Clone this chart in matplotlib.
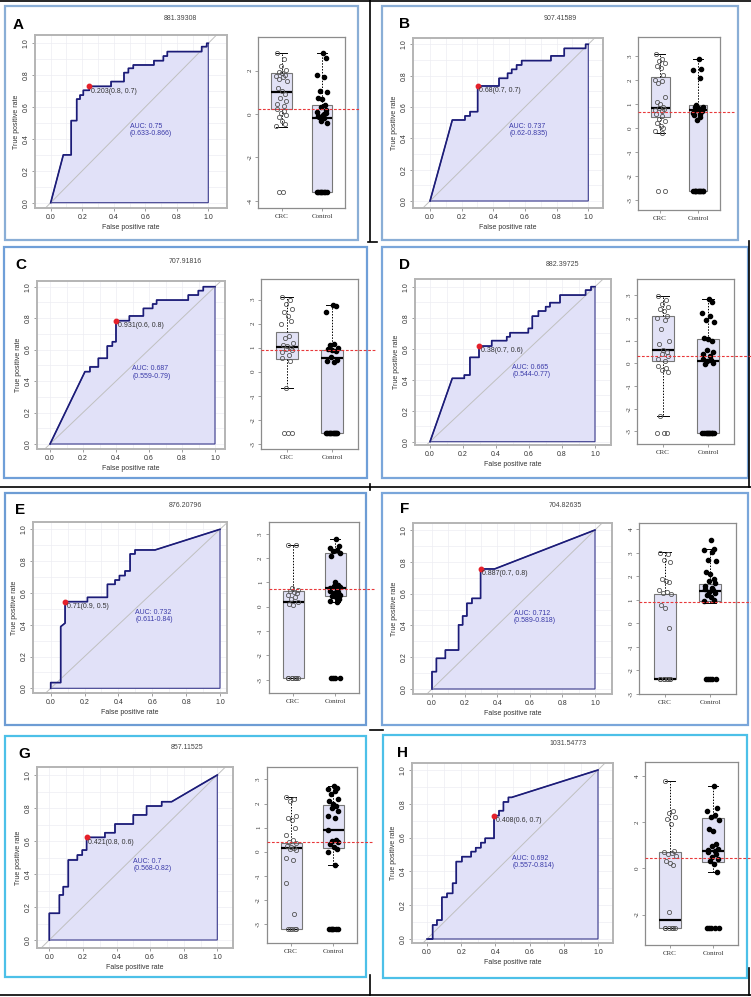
import matplotlib.pyplot as plt
from matplotlib.patches import Rectangle

W, H = 751, 997

# ---- ROC curves (fpr, tpr vertices) ----
A_fpr = [0, 0.08, 0.13, 0.13, 0.165, 0.165, 0.186, 0.186, 0.207, 0.207, 0.245, 0.245, 0.383, 0.383, 0.465, 0.465,
         0.493, 0.493, 0.524, 0.524, 0.655, 0.655, 0.715, 0.715, 0.74, 0.74, 0.958, 0.958, 0.99, 0.99, 1.0]
A_tpr = [0, 0.30, 0.30, 0.515, 0.515, 0.65, 0.65, 0.675, 0.675, 0.705, 0.705, 0.73, 0.73, 0.76, 0.76, 0.816,
         0.816, 0.843, 0.843, 0.864, 0.864, 0.891, 0.891, 0.92, 0.92, 0.948, 0.948, 0.979, 0.979, 1.0, 1.0]
B_fpr = [0, 0.141, 0.221, 0.221, 0.253, 0.253, 0.301, 0.301, 0.436, 0.436, 0.49, 0.49, 0.516, 0.516, 0.547, 0.547,
         0.579, 0.579, 0.764, 0.764, 0.848, 0.848, 0.983, 0.983, 1.0]
B_tpr = [0, 0.517, 0.517, 0.543, 0.543, 0.570, 0.570, 0.734, 0.734, 0.783, 0.783, 0.815, 0.815, 0.84, 0.84, 0.868,
         0.868, 0.896, 0.896, 0.926, 0.926, 0.974, 0.974, 1.0, 1.0]
C_fpr = [0, 0.212, 0.242, 0.242, 0.293, 0.293, 0.347, 0.347, 0.378, 0.378, 0.40, 0.40, 0.481, 0.481, 0.566, 0.566,
         0.622, 0.622, 0.646, 0.646, 0.838, 0.838, 0.899, 0.899, 0.929, 0.929, 1.0]
C_tpr = [0, 0.46, 0.46, 0.49, 0.49, 0.545, 0.545, 0.623, 0.623, 0.65, 0.65, 0.784, 0.784, 0.814, 0.814, 0.862,
         0.862, 0.89, 0.89, 0.915, 0.915, 0.947, 0.947, 0.975, 0.975, 1.0, 1.0]
D_fpr = [0, 0.135, 0.208, 0.208, 0.242, 0.242, 0.297, 0.297, 0.374, 0.374, 0.465, 0.465, 0.485, 0.485, 0.596, 0.596,
         0.62, 0.62, 0.657, 0.657, 0.701, 0.701, 0.727, 0.727, 0.788, 0.788, 0.943, 0.943, 0.976, 0.976, 1.0]
D_tpr = [0, 0.409, 0.409, 0.43, 0.43, 0.544, 0.544, 0.617, 0.617, 0.652, 0.652, 0.677, 0.677, 0.703, 0.703, 0.731,
         0.731, 0.81, 0.81, 0.843, 0.843, 0.871, 0.871, 0.897, 0.897, 0.946, 0.946, 0.978, 0.978, 1.0, 1.0]
E_fpr = [0, 0, 0.059, 0.059, 0.085, 0.085, 0.217, 0.217, 0.335, 0.335, 0.38, 0.38, 0.406, 0.406, 0.439, 0.439,
         0.469, 0.469, 0.498, 0.498, 0.616, 1.0]
E_tpr = [0, 0.036, 0.036, 0.388, 0.41, 0.545, 0.545, 0.572, 0.572, 0.654, 0.654, 0.681, 0.681, 0.709, 0.709, 0.738,
         0.738, 0.845, 0.845, 0.87, 0.87, 1.0]
F_fpr = [0, 0, 0.027, 0.027, 0.082, 0.082, 0.163, 0.163, 0.188, 0.188, 0.214, 0.214, 0.245, 0.245, 0.298, 0.298,
         0.384, 1.0]
F_tpr = [0, 0.109, 0.109, 0.193, 0.193, 0.245, 0.245, 0.403, 0.403, 0.459, 0.459, 0.539, 0.539, 0.57, 0.57, 0.755,
         0.755, 1.0]
G_fpr = [0, 0, 0.06, 0.06, 0.083, 0.083, 0.113, 0.113, 0.167, 0.167, 0.196, 0.196, 0.222, 0.222, 0.331, 0.331,
         0.391, 0.391, 0.5, 0.5, 0.579, 0.579, 0.669, 0.669, 0.728, 1.0]
G_tpr = [0, 0.162, 0.162, 0.273, 0.273, 0.323, 0.323, 0.485, 0.485, 0.515, 0.515, 0.545, 0.545, 0.622, 0.622, 0.65,
         0.65, 0.703, 0.703, 0.758, 0.758, 0.812, 0.812, 0.838, 0.838, 1.0]
H_fpr = [0, 0.033, 0.033, 0.058, 0.058, 0.087, 0.087, 0.117, 0.117, 0.15, 0.15, 0.171, 0.171, 0.204, 0.204, 0.258,
         0.258, 0.285, 0.285, 0.315, 0.315, 0.34, 0.34, 0.392, 0.392, 0.421, 0.421, 0.447, 0.447, 0.476, 0.476,
         0.495, 1.0]
H_tpr = [0, 0, 0.083, 0.083, 0.112, 0.112, 0.247, 0.247, 0.27, 0.27, 0.33, 0.33, 0.458, 0.458, 0.487, 0.487,
         0.517, 0.517, 0.54, 0.54, 0.57, 0.57, 0.596, 0.596, 0.73, 0.73, 0.759, 0.759, 0.811, 0.811, 0.838,
         0.838, 1.0]

# best threshold points and labels
best_pts = {'A': (0.245, 0.73), 'B': (0.301, 0.734), 'C': (0.40, 0.784), 'D': (0.297, 0.617),
            'E': (0.085, 0.545), 'F': (0.298, 0.755), 'G': (0.222, 0.622), 'H': (0.392, 0.73)}
thr_labels = {'A': '0.203(0.8, 0.7)', 'B': '0.68(0.7, 0.7)', 'C': '0.931(0.6, 0.8)', 'D': '0.38(0.7, 0.6)',
              'E': '0.71(0.9, 0.5)', 'F': '0.887(0.7, 0.8)', 'G': '0.421(0.8, 0.6)', 'H': '0.408(0.6, 0.7)'}
auc_labels = {'A': ('0.75', '0.633-0.866'), 'B': ('0.737', '0.62-0.835'), 'C': ('0.687', '0.559-0.79'),
              'D': ('0.665', '0.544-0.77'), 'E': ('0.732', '0.611-0.84'), 'F': ('0.712', '0.589-0.818'),
              'G': ('0.7', '0.568-0.82'), 'H': ('0.692', '0.557-0.814')}
titles = {'A': '881.39308', 'B': '907.41589', 'C': '707.91816', 'D': '882.39725',
          'E': '876.20796', 'F': '704.82635', 'G': '857.11525', 'H': '1031.54773'}

# ---- box plots: [whislo, q1, med, q3, whishi] and the points ----
A_crc_box = [-0.58, 0.25, 1.03, 1.88, 2.8]
A_ctrl_box = [-3.58, -3.58, -0.17, 0.4, 2.8]
B_crc_box = [-0.2, 0.49, 0.83, 2.15, 3.1]
B_ctrl_box = [-2.6, -2.6, 0.76, 0.97, 2.88]
C_crc_box = [-0.69, 0.53, 1.01, 1.64, 3.12]
C_ctrl_box = [-2.54, -2.54, 0.56, 0.9, 2.78]
D_crc_box = [-2.34, 0.12, 0.6, 2.09, 2.96]
D_ctrl_box = [-3.06, -3.06, 0.12, 1.07, 2.84]
E_crc_box = [-2.92, -2.92, 0.21, 0.65, 2.53]
E_ctrl_box = [0.21, 0.42, 0.76, 2.22, 2.8]
F_crc_box = [-2.36, -2.36, -2.36, 1.24, 3.03]
F_ctrl_box = [0.86, 0.93, 1.36, 1.69, 3.15]
G_crc_box = [-3.19, -3.19, 0.14, 0.37, 2.26]
G_ctrl_box = [-0.55, 0.14, 0.89, 1.92, 2.74]
H_crc_box = [-2.57, -2.57, -2.25, 0.72, 3.77]
H_ctrl_box = [-0.14, 0.29, 0.77, 2.17, 3.58]

A_crc = [2.8, 2.55, 2.2, 2.05, 1.95, 1.9, 1.8, 1.75, 1.7, 1.6, 1.5, 1.2, 1.05, 0.9, 0.75, 0.6, 0.45, 0.35, 0.25,
         0.15, 0.05, -0.05, -0.15, -0.3, -0.45, -0.55, -3.58, -3.58]
A_ctrl = [2.8, 2.6, 1.8, 1.7, 1.05, 1.0, 0.75, 0.7, 0.4, 0.3, 0.2, 0.1, 0.0, -0.1, -0.2, -0.3, -0.4, -0.15,
          -0.05, 0.05, -3.58, -3.58, -3.58, -3.58, -3.58, -3.58, -3.58, -3.58]
B_crc = [3.1, 2.9, 2.8, 2.7, 2.6, 2.5, 2.2, 2.0, 1.95, 1.9, 1.3, 1.1, 1.0, 0.9, 0.85, 0.8, 0.75, 0.7, 0.6, 0.5,
         0.4, 0.3, 0.2, 0.1, 0.0, -0.1, -0.2, -2.6, -2.6]
B_ctrl = [2.88, 2.45, 2.42, 2.1, 0.95, 0.9, 0.88, 0.85, 0.8, 0.75, 0.7, 0.65, 0.6, 0.55, 0.45, 0.35,
          -2.6, -2.6, -2.6, -2.6, -2.6, -2.6, -2.6, -2.6, -2.6, -2.6]
C_crc = [3.1, 3.0, 2.8, 2.6, 2.5, 2.3, 2.1, 2.0, 1.5, 1.4, 1.2, 1.1, 1.05, 1.0, 0.95, 0.9, 0.8, 0.7, 0.55, 0.45,
         -0.69, -2.54, -2.54, -2.54]
C_ctrl = [2.78, 2.75, 2.5, 1.15, 1.1, 1.0, 0.95, 0.9, 0.85, 0.6, 0.5, 0.45, 0.4,
          -2.54, -2.54, -2.54, -2.54, -2.54, -2.54, -2.54, -2.54, -2.54, -2.54]
D_crc = [2.96, 2.8, 2.6, 2.5, 2.4, 2.3, 2.1, 2.0, 1.9, 1.5, 1.0, 0.85, 0.6, 0.5, 0.4, 0.3, 0.2, 0.1, -0.1, -0.2,
         -0.3, -0.4, -2.34, -3.06, -3.06, -3.06]
D_ctrl = [2.84, 2.7, 2.2, 2.1, 1.9, 1.8, 1.1, 1.05, 1.0, 0.6, 0.5, 0.4, 0.3, 0.2, 0.15, 0.1, 0.0, -0.05,
          -3.06, -3.06, -3.06, -3.06, -3.06, -3.06, -3.06, -3.06, -3.06, -3.06]
E_crc = [2.53, 2.53, 0.75, 0.7, 0.65, 0.6, 0.55, 0.5, 0.4, 0.3, 0.2, 0.1, 0.05,
         -2.92, -2.92, -2.92, -2.92, -2.92, -2.92, -2.92, -2.92]
E_ctrl = [2.8, 2.5, 2.4, 2.35, 2.3, 2.2, 2.1, 1.0, 0.9, 0.85, 0.8, 0.75, 0.7, 0.65, 0.6, 0.55, 0.5, 0.45, 0.4,
          0.3, 0.25, 0.2, -2.92, -2.92, -2.92, -2.92]
F_crc = [3.0, 2.95, 2.7, 2.6, 1.9, 1.8, 1.75, 1.4, 1.35, 1.3, 1.25, 0.8, 0.65, -0.2,
         -2.36, -2.36, -2.36, -2.36, -2.36, -2.36, -2.36, -2.36]
F_ctrl = [3.54, 3.15, 3.1, 3.05, 2.7, 2.65, 2.2, 2.1, 1.9, 1.8, 1.7, 1.6, 1.5, 1.45, 1.4, 1.35, 1.3, 1.2, 1.1,
          1.0, 0.95, -2.36, -2.36, -2.36, -2.36, -2.36]
G_crc = [2.26, 2.2, 2.1, 1.5, 1.4, 1.3, 1.0, 0.7, 0.5, 0.4, 0.35, 0.25, 0.2, 0.15, 0.1, 0.05, -0.25, -0.35,
         -1.3, -2.6, -3.19, -3.19, -3.19, -3.19, -3.19]
G_ctrl = [2.74, 2.65, 2.6, 2.5, 2.4, 2.2, 2.1, 2.0, 1.9, 1.8, 1.7, 1.5, 1.4, 0.9, 0.5, 0.45, 0.4, 0.3, 0.2,
          0.1, 0.0, -0.55, -3.19, -3.19, -3.19, -3.19, -3.19, -3.19]
H_crc = [3.77, 2.5, 2.4, 2.2, 2.15, 1.9, 0.75, 0.7, 0.65, 0.6, 0.55, 0.3, 0.25, 0.15, -1.9,
         -2.57, -2.57, -2.57, -2.57, -2.57, -2.57]
H_ctrl = [3.58, 2.6, 2.5, 2.3, 2.2, 2.1, 1.7, 1.6, 1.05, 0.95, 0.85, 0.8, 0.75, 0.7, 0.6, 0.5, 0.4, 0.3, 0.2,
          -0.14, -2.57, -2.57, -2.57, -2.57, -2.57]

cutoffs = {'A': 0.215, 'B': 0.67, 'C': 0.9, 'D': 0.34, 'E': 0.72, 'F': 0.89, 'G': 0.41, 'H': 0.43}
box_ticks = {'A': [-4, -2, 0, 2], 'B': [-3, -2, -1, 0, 1, 2, 3], 'C': [-3, -2, -1, 0, 1, 2, 3],
             'D': [-3, -2, -1, 0, 1, 2, 3], 'E': [-3, -2, -1, 0, 1, 2, 3], 'F': [-3, -2, -1, 0, 1, 2, 3, 4],
             'G': [-3, -2, -1, 0, 1, 2, 3], 'H': [-2, 0, 2, 4]}
groups = ['CRC', 'Control']

# ---- layout in pixels ----
# panel border (l, t, r, b), colour
borders = {'A': ((5, 6, 358, 240), '#8aaed6'), 'B': ((382, 6, 738, 240), '#8aaed6'),
           'C': ((4, 247, 367, 478), '#6f9fd8'), 'D': ((382, 247, 748, 478), '#7aa6da'),
           'E': ((5, 493, 366, 725), '#6d9cd4'), 'F': ((382, 493, 748, 725), '#7aa6da'),
           'G': ((5, 736, 366, 977), '#4cc0e8'), 'H': ((383, 735, 747, 978), '#4cc0e8')}
# roc frame (l, t, r, b) and calibration (px of x=0, px of x=1, py of y=0, py of y=1)
roc_frames = {'A': ((35, 35, 227, 208), (50.7, 208.3, 202.7, 43.3)),
              'B': ((413, 38, 603, 208), (430, 588.3, 201, 44.3)),
              'C': ((37, 281, 225, 449), (50, 215, 444, 286.7)),
              'D': ((415, 279, 611, 445), (430, 595, 441.7, 286.7)),
              'E': ((33, 522, 227, 693), (50.7, 220, 688.3, 529.3)),
              'F': ((413, 523, 612, 694), (432, 595, 689, 530)),
              'G': ((37, 767, 233, 948), (49.3, 217.3, 940, 775)),
              'H': ((412, 763, 613, 943), (427, 598, 939, 770))}
# box frame (top, bottom), centres of the two groups, y calibration (py of 0, px per unit)
box_frames = {'A': ((37, 208), (281.5, 322), (114, 21.67)),
              'B': ((37, 210), (660, 698), (128.3, 24)),
              'C': ((279, 449), (287, 332), (371.7, 24)),
              'D': ((279, 444), (663, 708), (363.3, 22.7)),
              'E': ((522, 693), (293, 335), (606.7, 24.3)),
              'F': ((523, 694), (665, 710), (623.3, 23.5)),
              'G': ((767, 943), (291, 333), (851.7, 24.1)),
              'H': ((762, 945), (670, 713), (868.3, 23.1))}
title_pos = {'A': (180, 18), 'B': (560, 18), 'C': (185, 261), 'D': (562, 264),
             'E': (185, 505), 'F': (565, 505), 'G': (187, 747), 'H': (568, 743)}
letter_pos = {'A': (18, 25), 'B': (404, 24), 'C': (21, 265), 'D': (404, 265),
              'E': (20, 510), 'F': (405, 509), 'G': (24, 754), 'H': (402, 753)}

jit = [-0.11, 0.06, -0.02, 0.12, -0.07, 0.02, 0.09, -0.13, 0.04, -0.05, 0.13, -0.09, 0.0, 0.08, -0.03, 0.11,
       -0.12, 0.05]

roc_data = {'A': (A_fpr, A_tpr), 'B': (B_fpr, B_tpr), 'C': (C_fpr, C_tpr), 'D': (D_fpr, D_tpr),
            'E': (E_fpr, E_tpr), 'F': (F_fpr, F_tpr), 'G': (G_fpr, G_tpr), 'H': (H_fpr, H_tpr)}
box_data = {'A': (A_crc_box, A_ctrl_box, A_crc, A_ctrl), 'B': (B_crc_box, B_ctrl_box, B_crc, B_ctrl),
            'C': (C_crc_box, C_ctrl_box, C_crc, C_ctrl), 'D': (D_crc_box, D_ctrl_box, D_crc, D_ctrl),
            'E': (E_crc_box, E_ctrl_box, E_crc, E_ctrl), 'F': (F_crc_box, F_ctrl_box, F_crc, F_ctrl),
            'G': (G_crc_box, G_ctrl_box, G_crc, G_ctrl), 'H': (H_crc_box, H_ctrl_box, H_crc, H_ctrl)}

SANS = 'Liberation Sans'
SERIF = 'Liberation Serif'
FS = 5


def rect(l, t, r, b):
    return [l / W, 1 - b / H, (r - l) / W, (b - t) / H]


fig = plt.figure(figsize=(W / 100, H / 100), dpi=100)
bg = fig.add_axes([0, 0, 1, 1])
bg.set_xlim(0, W)
bg.set_ylim(H, 0)
bg.axis('off')

# black table lines
for xs, ys in [([0, W], [1, 1]), ([370, 370], [0, 241]), ([368, 377], [242, 242]),
               ([0, W], [487, 487]), ([370, 370], [484, 490]), ([749, 749], [241, 487]),
               ([370, 383], [730, 730]), ([0, W], [995, 995]), ([370, 370], [975, 995]),
               ([749, 749], [968, 995])]:
    bg.plot(xs, ys, color='black', lw=1.2)

for key in 'ABCDEFGH':
    (l, t, r, b), col = borders[key]
    bg.add_patch(Rectangle((l, t), r - l, b - t, fill=False, edgecolor=col, lw=1.6))
    bg.text(*title_pos[key], titles[key], fontsize=FS, family=SANS, color='#444444', ha='center', va='center')
    bg.text(*letter_pos[key], key, fontsize=11, family=SANS, weight='bold', ha='center', va='center')

    # ROC panel
    (fl, ft, fr, fb), (px0, px1, py0, py1) = roc_frames[key]
    ax = fig.add_axes(rect(fl, ft, fr, fb))
    ux = px1 - px0
    uy = py0 - py1
    ax.set_xlim((fl - px0) / ux, (fr - px0) / ux)
    ax.set_ylim((py0 - fb) / uy, (py0 - ft) / uy)
    for g in [i / 10 for i in range(11)]:
        ax.axvline(g, color='#ededf3', lw=0.5, zorder=0)
        ax.axhline(g, color='#ededf3', lw=0.5, zorder=0)
    fpr, tpr = roc_data[key]
    ax.fill(list(fpr) + [1.0, 0.0], list(tpr) + [0.0, 0.0], facecolor='#e1e1f8', edgecolor='#3a3a8c',
            lw=0.8, zorder=1)
    ax.plot([-1, 2], [-1, 2], color='#c0c0c0', lw=0.7, zorder=2)
    ax.plot(fpr, tpr, color='#1c1c78', lw=1.2, zorder=3)
    bx, by = best_pts[key]
    ax.plot(bx, by, 'o', color='#e5212b', ms=3.2, zorder=4)
    ax.annotate(thr_labels[key], (bx, by), xytext=(1.2, -3.5), textcoords='offset points',
                fontsize=FS, family=SANS, color='#333333', ha='left', va='center', zorder=5)
    auc, ci = auc_labels[key]
    ax.text(0.5, 0.455, 'AUC: ' + auc + '\n(' + ci + ')', fontsize=FS, family=SANS, color='#3a3aa8',
            ha='left', va='center', linespacing=1.05, zorder=5)
    ax.set_xticks([0, 0.2, 0.4, 0.6, 0.8, 1.0])
    ax.set_xticklabels(['0.0', '0.2', '0.4', '0.6', '0.8', '1.0'])
    ax.set_yticks([0, 0.2, 0.4, 0.6, 0.8, 1.0])
    ax.set_yticklabels(['0.0', '0.2', '0.4', '0.6', '0.8', '1.0'], rotation=90, va='center')
    ax.tick_params(length=2, width=0.5, color='#777777', pad=2, labelsize=FS, labelcolor='#333333')
    for lab in ax.get_xticklabels() + ax.get_yticklabels():
        lab.set_family(SANS)
    ax.set_xlabel('False positive rate', fontsize=FS, family=SANS, color='#333333', labelpad=2.5)
    ax.set_ylabel('True positive rate', fontsize=FS, family=SANS, color='#333333', labelpad=2)
    for s in ax.spines.values():
        s.set_color('#b4b4b4')
        s.set_linewidth(1.4)

    # box plot panel
    (bt, bb), (c1, c2), (y0, uyb) = box_frames[key]
    u = c2 - c1
    bl = c1 - 0.58 * u
    br = c2 + 0.58 * u
    bax = fig.add_axes(rect(bl, bt, br, bb))
    bax.set_xlim(0.42, 2.58)
    bax.set_ylim((y0 - bb) / uyb, (y0 - bt) / uyb)
    crc_box, ctrl_box, crc_pts, ctrl_pts = box_data[key]
    stats = []
    for bs, name in [(crc_box, groups[0]), (ctrl_box, groups[1])]:
        stats.append({'whislo': bs[0], 'q1': bs[1], 'med': bs[2], 'q3': bs[3], 'whishi': bs[4],
                      'fliers': [], 'label': name})
    bax.bxp(stats, positions=[1, 2], widths=0.5, patch_artist=True, showfliers=False,
            boxprops=dict(facecolor='#e2e2f6', edgecolor='#777777', lw=0.8),
            whiskerprops=dict(color='black', lw=0.7, linestyle=(0, (1.5, 1.5))),
            capprops=dict(color='black', lw=0.7), capwidths=0.25,
            medianprops=dict(color='black', lw=1.6))
    for i, v in enumerate(crc_pts):
        bax.plot(1 + jit[i % len(jit)], v, 'o', ms=3.0, mfc='none', mec='#555555', mew=0.6, zorder=4)
    for i, v in enumerate(ctrl_pts):
        bax.plot(2 + jit[(i + 5) % len(jit)], v, 'o', ms=3.0, color='black', zorder=4)
    bax.plot([0.42, 2.95], [cutoffs[key], cutoffs[key]], color='#e8393b', lw=0.8,
             linestyle=(0, (2.5, 1.5)), clip_on=False, zorder=5)
    bax.set_xticks([1, 2])
    bax.set_xticklabels(groups, fontsize=FS, family=SERIF)
    bax.set_yticks(box_ticks[key])
    bax.set_yticklabels([str(v) for v in box_ticks[key]], rotation=90, va='center', fontsize=FS, family=SERIF)
    bax.tick_params(length=2, width=0.5, color='#777777', pad=2, labelcolor='#333333')
    for s in bax.spines.values():
        s.set_color('#8c8c8c')
        s.set_linewidth(0.9)

fig.savefig('out.png', dpi=100)
